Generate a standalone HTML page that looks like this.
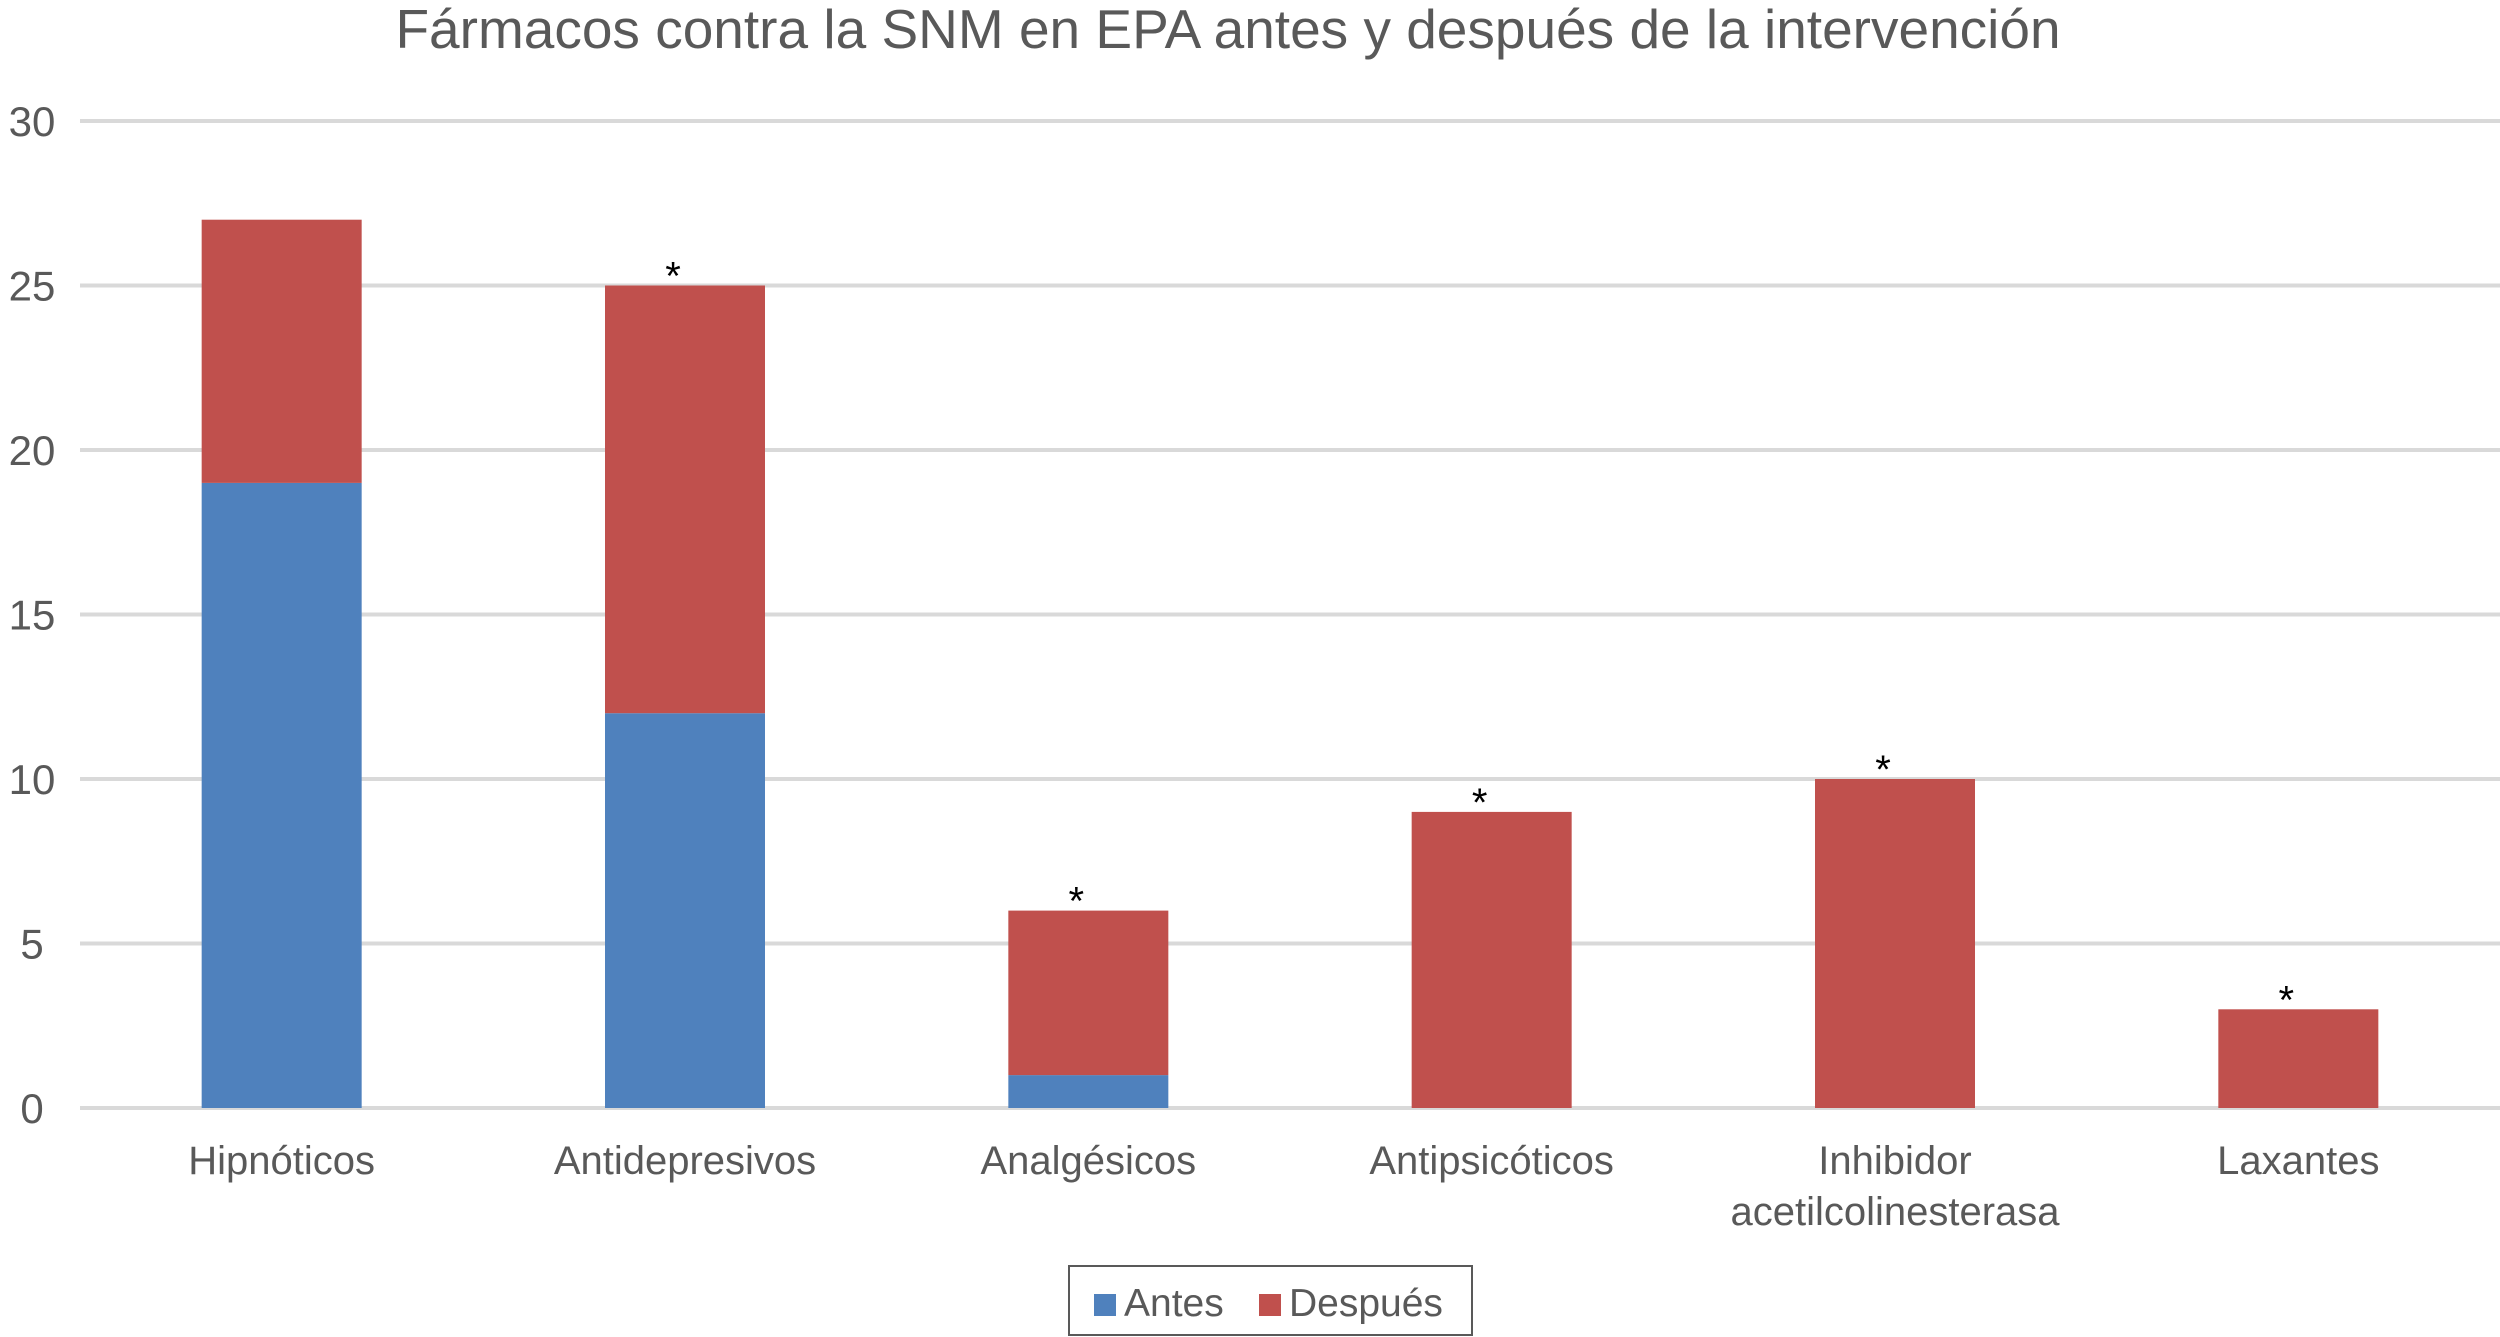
<!DOCTYPE html>
<html><head><meta charset="utf-8"><style>
html,body{margin:0;padding:0;background:#fff;}
svg{display:block;}
text{font-family:"Liberation Sans",sans-serif;}
</style></head><body>
<svg id="chart" width="2500" height="1337" viewBox="0 0 2500 1337" xmlns="http://www.w3.org/2000/svg">
<rect width="2500" height="1337" fill="#fff"/>
<text x="1228" y="48" text-anchor="middle" font-size="55" fill="#595959">Fármacos contra la SNM en EPA antes y después de la intervención</text>
<g id="grid"></g>
<g id="yticks"></g>
<g id="bars"></g>
<g id="xlabels"></g>
<g>
<rect x="1069" y="1266" width="403" height="69" fill="#fff" stroke="#595959" stroke-width="2"/>
<rect x="1094" y="1294" width="22" height="22" fill="#4F81BD"/>
<text x="1124" y="1316" font-size="39" fill="#595959">Antes</text>
<rect x="1259" y="1294" width="22" height="22" fill="#C0504D"/>
<text x="1289" y="1316" font-size="39" fill="#595959">Después</text>
</g>
</svg>
<script>
const categories = [["Hipnóticos"],["Antidepresivos"],["Analgésicos"],["Antipsicóticos"],["Inhibidor","acetilcolinesterasa"],["Laxantes"]];
const antes = [19,12,1,0,0,0];
const despues = [8,13,5,9,10,3];
const significant = [false,true,true,true,true,true];
const yTicks = [0,5,10,15,20,25,30];

const NS = "http://www.w3.org/2000/svg";
const plotL = 80, plotR = 2500, y0 = 1108, yTop = 121, yMax = 30;
const band = (plotR - plotL) / categories.length;
const barW = 160;
function yScale(v){ return y0 - (v / yMax) * (y0 - yTop); }
function xCenter(i){ return plotL + band * (i + 0.5); }
function mk(tag, attrs){ const e = document.createElementNS(NS, tag); for (const k in attrs) e.setAttribute(k, attrs[k]); return e; }

const grid = document.getElementById('grid');
const yt = document.getElementById('yticks');
yTicks.forEach(t => {
  const l = mk('line', {x1: plotL, x2: plotR, y1: yScale(t), y2: yScale(t), stroke: '#d9d9d9', 'stroke-width': 4});
  
  
  grid.appendChild(l);
  const tx = mk('text', {x: 32, y: yScale(t) + 15, 'text-anchor': 'middle', 'font-size': 42, fill: '#595959'});
  tx.textContent = t;
  
  
  yt.appendChild(tx);
});

const bars = document.getElementById('bars');
const xl = document.getElementById('xlabels');
categories.forEach((c, i) => {
  const cx = xCenter(i), x = cx - barW / 2;
  if (antes[i] > 0) {
    const r = mk('rect', {x: x, y: yScale(antes[i]), width: barW, height: y0 - yScale(antes[i]), fill: '#4F81BD'});
    
    
    bars.appendChild(r);
  }
  const top = antes[i] + despues[i];
  if (despues[i] > 0) {
    const r = mk('rect', {x: x, y: yScale(top), width: barW, height: yScale(antes[i]) - yScale(top), fill: '#C0504D'});
    
    
    bars.appendChild(r);
  }
  if (significant[i]) {
    const s = mk('text', {x: cx - 12, y: yScale(top) + 4, 'text-anchor': 'middle', 'font-size': 40, fill: '#000'});
    s.textContent = '*';
    
    
    bars.appendChild(s);
  }
  c.forEach((line, j) => {
    const t = mk('text', {x: cx, y: 1174 + j * 51, 'text-anchor': 'middle', 'font-size': 40, fill: '#595959'});
    t.textContent = line;
    
    
    xl.appendChild(t);
  });
});
</script>
</body></html>
